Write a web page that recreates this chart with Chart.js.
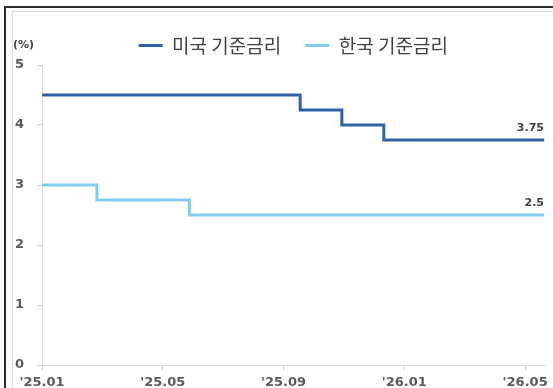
<!DOCTYPE html>
<html>
<head>
<meta charset="utf-8">
<script src="https://cdn.jsdelivr.net/npm/chart.js@4"></script>
<style>
  html, body { margin: 0; padding: 0; background: #fff; overflow: hidden; }
  #wrap { position: relative; width: 553px; height: 388px; overflow: hidden; }
  #outer { position: absolute; left: 4px; top: 6px; right: -30px; bottom: -30px;
           border-left: 2px solid #2b2b2b; border-top: 2px solid #2b2b2b; }
  #inner { position: absolute; left: 12px; top: 11px; right: -30px; bottom: -30px;
           border-left: 1px solid #d9d9d9; border-top: 1px solid #d9d9d9; }
  #myChart { position: absolute; left: 0; top: 0; }
</style>
</head>
<body>
<div id="wrap">
  <div id="outer"></div>
  <div id="inner"></div>
  <canvas id="myChart" width="553" height="388"></canvas>
</div>
<script>
// months since 2025-01-01
var xTickPos = [0, 4, 8, 12, 16];
var xTickLabels = ["'25.01", "'25.05", "'25.09", "'26.01", "'26.05"];
var xEnd = 16.64;

var usX = [0, 8.55, 9.93, 11.32, 16.64];
var usRate = [4.5, 4.25, 4.0, 3.75, 3.75];
var krX = [0, 1.82, 4.88, 16.64];
var krRate = [3.0, 2.75, 2.5, 2.5];

var seriesNames = ['미국 기준금리', '한국 기준금리'];
var usColor = '#2f62a3';
var krColor = '#80cdee';

function toPoints(xs, ys) {
    return xs.map(function (x, i) { return { x: x, y: ys[i] }; });
}

var axisGray = '#d9d9d9';
var tickFont = { family: 'DejaVu Sans', size: 13, weight: 'bold' };

// "(%)" unit and last-value labels
var extras = {
    id: 'extras',
    afterDatasetsDraw: function (chart) {
        var ctx = chart.ctx;
        ctx.save();
        ctx.fillStyle = '#404040';
        ctx.font = 'bold 11px "DejaVu Sans"';
        ctx.textAlign = 'left';
        ctx.textBaseline = 'middle';
        ctx.fillText('(%)', 13, 45);
        ctx.textAlign = 'right';
        chart.data.datasets.forEach(function (ds, i) {
            var meta = chart.getDatasetMeta(i);
            var last = meta.data[meta.data.length - 1];
            var v = ds.data[ds.data.length - 1].y;
            ctx.fillText(String(v), 544, last.y - 12);
        });
        ctx.restore();
    }
};

var ctx = document.getElementById('myChart').getContext('2d');
var myChart = new Chart(ctx, {
    type: 'line',
    data: {
        datasets: [{
            label: seriesNames[0],
            data: toPoints(usX, usRate),
            borderColor: usColor,
            backgroundColor: usColor,
            borderWidth: 3,
            pointRadius: 0,
            stepped: true
        }, {
            label: seriesNames[1],
            data: toPoints(krX, krRate),
            borderColor: krColor,
            backgroundColor: krColor,
            borderWidth: 3,
            pointRadius: 0,
            stepped: true
        }]
    },
    options: {
        responsive: false,
        animation: false,
        layout: { padding: { left: 0, right: 5, top: 12, bottom: 0 } },
        plugins: {
            tooltip: { enabled: false },
            legend: {
                position: 'top',
                fullSize: false,
                maxHeight: 53,
                labels: {
                    boxWidth: 24,
                    boxHeight: 3,
                    padding: 24,
                    color: '#404040',
                    font: { family: 'Noto Sans CJK KR', size: 19 },
                    generateLabels: function (chart) {
                        var items = Chart.defaults.plugins.legend.labels.generateLabels(chart);
                        items.forEach(function (it) { it.lineWidth = 0; it.fillStyle = it.strokeStyle; });
                        return items;
                    }
                }
            }
        },
        scales: {
            x: {
                type: 'linear',
                min: 0,
                max: xEnd,
                afterBuildTicks: function (scale) {
                    scale.ticks = xTickPos.map(function (v) { return { value: v }; });
                },
                afterFit: function (scale) { scale.height = 23; },
                ticks: {
                    color: '#595959',
                    font: tickFont,
                    padding: 5,
                    maxRotation: 0,
                    autoSkip: false,
                    callback: function (v) {
                        var i = xTickPos.indexOf(v);
                        return i >= 0 ? xTickLabels[i] : '';
                    }
                },
                grid: { drawOnChartArea: false, tickLength: 5, color: axisGray },
                border: { color: axisGray, width: 1 }
            },
            y: {
                min: 0,
                max: 5,
                afterFit: function (scale) { scale.width = 42; },
                ticks: { stepSize: 1, color: '#595959', font: tickFont, padding: 13 },
                grid: { drawOnChartArea: false, tickLength: 5, color: axisGray },
                border: { color: axisGray, width: 1 }
            }
        }
    },
    plugins: [extras]
});
</script>
</body>
</html>
